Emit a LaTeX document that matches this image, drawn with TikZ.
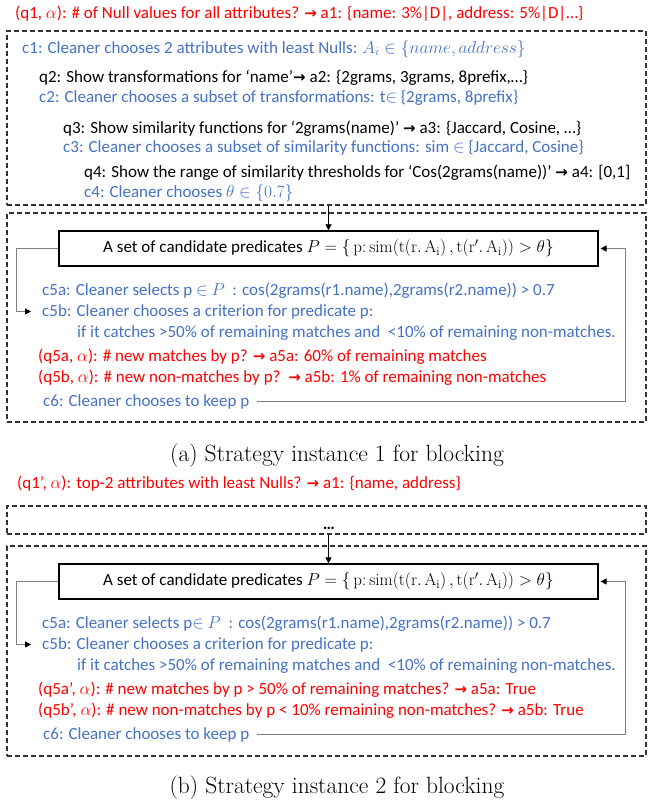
\documentclass[tikz,border=0pt]{standalone}
\usepackage{fontspec}
\newfontfamily\cali{Carlito}
\newfontfamily\symf{DejaVu Sans}
\usetikzlibrary{arrows.meta,positioning}

\definecolor{qred}{RGB}{255,0,0}
\definecolor{cblue}{RGB}{68,114,196}
\newcommand{\ra}{{\symf\bfseries\fontsize{15}{15}\selectfont →}}

\tikzset{
	txt/.style={anchor=base west, inner sep=0pt, font=\cali\fontsize{17}{20}\selectfont},
	qtxt/.style={txt, text=qred},
	ctxt/.style={txt, text=cblue},
	dbox/.style={draw=black!80, line width=1.2pt, dash pattern=on 5pt off 3pt, inner sep=0pt, minimum width=639pt},
	pbox/.style={draw, line width=1.2pt, inner sep=0pt, minimum width=539pt, minimum height=35pt, font=\cali\fontsize{17}{20}\selectfont},
	conn/.style={draw=black!50, line width=0.9pt},
	tip/.style={-{Triangle[length=6pt,width=6pt,color=black]}},
	capt/.style={font=\fontsize{23.5}{28}\selectfont}
}

\begin{document}
\begin{tikzpicture}[x=1pt, y=-1pt]
	\useasboundingbox (0,0) rectangle (649,804);
	
	% (a) strategy instance 1
	\node[qtxt] (q1) at (15,18) {(q1, $\alpha$): \# of Null values for all attributes? \ra{} a1: \{name: 3\%|D|, address: 5\%|D|…\}};
	\node[dbox, minimum height=174pt] (box1) at (326.5,118) {};
	\node[ctxt] (c1) at (22,53) {c1: Cleaner chooses 2 attributes with least Nulls: $A_i\in\{name, address\}$};
	\node[txt] (q2) at (39,82) {q2: Show transformations for ‘name’\ra{} a2: \{2grams, 3grams, 8prefix,…\}};
	\node[ctxt] (c2) at (39,102) {c2: Cleaner chooses a subset of transformations: t$\in$ \{2grams, 8prefix\}};
	\node[txt] (q3) at (63,133) {q3: Show similarity functions for ‘2grams(name)’ \ra{} a3: \{Jaccard, Cosine, …\}};
	\node[ctxt] (c3) at (63,152) {c3: Cleaner chooses a subset of similarity functions: sim $\in$ \{Jaccard, Cosine\}};
	\node[txt] (q4) at (84,177) {q4: Show the range of similarity thresholds for ‘Cos(2grams(name))’ \ra{} a4: [0,1]};
	\node[ctxt] (c4) at (84,197) {c4: Cleaner chooses $\theta\in\{0.7\}$};
	
	\node[dbox, minimum height=209pt] (box2) at (326.5,317.5) {};
	\node[pbox] (P1) at (328.5,248.5) {A set of candidate predicates $P=\{\,\mathrm{p\colon sim}\bigl(\mathrm{t(r.\,A_i)}\,,\mathrm{t(r'.\,A_i)}\bigr)>\theta\}$};
	\node[ctxt] (c5a1) at (42,295) {c5a: Cleaner selects p $\in$ $P$\ \ : cos(2grams(r1.name),2grams(r2.name)) > 0.7};
	\node[ctxt] (c5b1) at (42,316) {c5b: Cleaner chooses a criterion for predicate p:};
	\node[ctxt] (if1) at (77,337) {if it catches >50\% of remaining matches and\ \ <10\% of remaining non-matches.};
	\node[qtxt] (q5a1) at (38,361) {(q5a, $\alpha$): \# new matches by p? \ra{} a5a: 60\% of remaining matches};
	\node[qtxt] (q5b1) at (38,382) {(q5b, $\alpha$): \# new non-matches by p?\ \ \ra{} a5b: 1\% of remaining non-matches};
	\node[ctxt] (c6a) at (43,406) {c6: Cleaner chooses to keep p};
	
	\draw[tip] (box1.south -| P1.north) -- (P1.north);
	\draw[conn, tip] (P1.west) -- ++(-42,0) |- ([xshift=-11pt]c5b1.west);
	\draw[conn, tip] ([xshift=8pt]c6a.east) -| ([xshift=27pt]P1.east) -- ([xshift=2pt]P1.east);
	
	\node[capt] (capa) at (337,456) {(a) Strategy instance 1 for blocking};
	
	% (b) strategy instance 2
	\node[qtxt] (q1b) at (17,488) {(q1’, $\alpha$): top-2 attributes with least Nulls? \ra{} a1: \{name, address\}};
	\node[dbox, minimum height=28pt] (box3) at (326.5,520) {};
	\node[txt, anchor=base, font=\cali\bfseries\fontsize{17}{20}\selectfont] (dots) at (329,529) {…};
	
	\node[dbox, minimum height=210pt] (box4) at (326.5,651) {};
	\node[pbox] (P2) at (328.5,581.5) {A set of candidate predicates $P=\{\,\mathrm{p\colon sim}\bigl(\mathrm{t(r.\,A_i)}\,,\mathrm{t(r'.\,A_i)}\bigr)>\theta\}$};
	\node[ctxt] (c5a2) at (42,628) {c5a: Cleaner selects p$\in$ $P$\ \ : cos(2grams(r1.name),2grams(r2.name)) > 0.7};
	\node[ctxt] (c5b2) at (42,649) {c5b: Cleaner chooses a criterion for predicate p:};
	\node[ctxt] (if2) at (77,670) {if it catches >50\% of remaining matches and\ \ <10\% of remaining non-matches.};
	\node[qtxt] (q5a2) at (38,694) {(q5a’, $\alpha$): \# new matches by p > 50\% of remaining matches? \ra{} a5a: True};
	\node[qtxt] (q5b2) at (38,715) {(q5b’, $\alpha$): \# new non-matches by p < 10\% remaining non-matches? \ra{} a5b: True};
	\node[ctxt] (c6b) at (43,739) {c6: Cleaner chooses to keep p};
	
	\draw[tip] (box3.south -| P2.north) -- (P2.north);
	\draw[conn, tip] (P2.west) -- ++(-42,0) |- ([xshift=-11pt]c5b2.west);
	\draw[conn, tip] ([xshift=8pt]c6b.east) -| ([xshift=27pt]P2.east) -- ([xshift=2pt]P2.east);
	
	\node[capt] (capb) at (337,788) {(b) Strategy instance 2 for blocking};
	
\end{tikzpicture}
\end{document}
